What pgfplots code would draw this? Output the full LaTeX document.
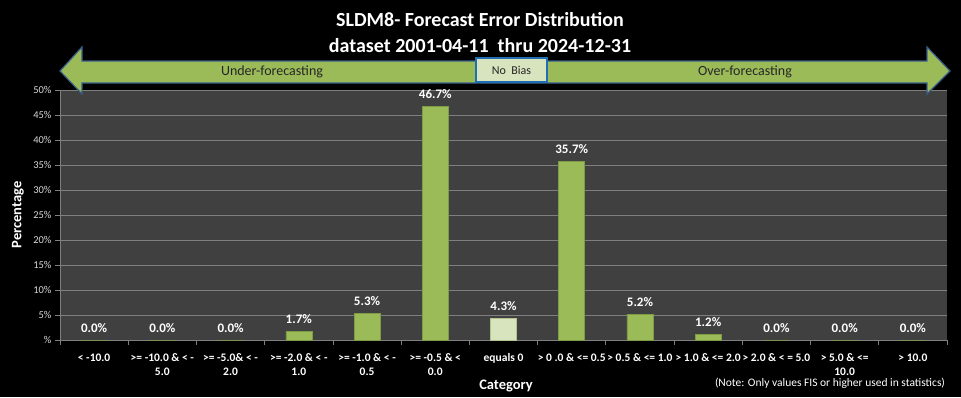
\documentclass[border=0pt]{standalone}
\usepackage{pgfplots}
\pgfplotsset{compat=1.18}
\usepackage{fontspec}
\setmainfont{Carlito}
\definecolor{bargreen}{HTML}{9BBB59}
\definecolor{baredge}{HTML}{7E9B45}
\definecolor{barlight}{HTML}{D7E4BD}
\definecolor{plotbg}{HTML}{404040}
\definecolor{gridc}{HTML}{7F7F7F}
\definecolor{arrowedge}{HTML}{385D8A}
\definecolor{boxedge}{HTML}{1F6FB5}
\definecolor{ticktext}{HTML}{D9D9D9}
\begin{document}
\begin{tikzpicture}[x=1bp,y=1bp]
\useasboundingbox (0,0) rectangle (961,397);
\fill[black] (0,0) rectangle (961,397);
% titles
\node[text=white,font=\bfseries\fontsize{20bp}{22bp}\selectfont] at (480,377) {SLDM8- Forecast Error Distribution};
\node[text=white,font=\bfseries\fontsize{20bp}{22bp}\selectfont] at (480,351) {dataset 2001-04-11\ \ thru 2024-12-31};
\begin{axis}[
  at={(60bp,57bp)}, anchor=south west,
  scale only axis, width=887bp, height=250bp,
  xmin=0, xmax=13, ymin=0, ymax=50,
  /pgf/number format/assume math mode=true,
  ybar, bar width=26bp, bar shift=0pt,
  axis background/.style={fill=plotbg},
  axis x line*=bottom, axis y line*=left,
  axis line style={draw=gridc, line width=0.8bp},
  xtick={0.5,1.5,...,12.5},
  xticklabels={{\textless\ -10.0},{\textgreater= -10.0 \& \textless\ -\\5.0},{\textgreater= -5.0\& \textless\ -\\2.0},{\textgreater= -2.0 \& \textless\ -\\1.0},{\textgreater= -1.0 \& \textless\ -\\0.5},{\textgreater= -0.5 \& \textless\\0.0},{equals 0},{\textgreater\ 0 .0 \& \textless= 0.5},{\textgreater\ 0.5 \& \textless= 1.0},{\textgreater\ 1.0 \& \textless= 2.0},{\textgreater\ 2.0 \& \textless\ = 5.0},{\textgreater\ 5.0 \& \textless=\\10.0},{\textgreater\ 10.0}},
  major x tick style={draw=none},
  minor xtick={0,1,...,13},
  minor tick length=5bp,
  minor x tick style={draw=gridc, line width=0.8bp},
  tick align=outside,
  xticklabel style={text=white, font=\bfseries\fontsize{11.5bp}{14bp}\selectfont, align=center, yshift=-5bp},
  ytick={0,5,...,50},
  yticklabels={\%,5\%,10\%,15\%,20\%,25\%,30\%,35\%,40\%,45\%,50\%},
  yticklabel style={text=ticktext, font=\fontsize{10.5bp}{12bp}\selectfont},
  major y tick style={draw=gridc, line width=0.8bp},
  major tick length=5bp,
  ymajorgrids, major grid style={draw=gridc, line width=0.9bp},
  nodes near coords={\pgfmathprintnumber[fixed,fixed zerofill,precision=1]{\pgfplotspointmeta}\%},
  every node near coord/.append style={text=white, font=\bfseries\fontsize{13bp}{15bp}\selectfont, yshift=4bp},
  clip=false,
]
\addplot[fill=bargreen, draw=baredge, line width=0.6bp] coordinates {
 (0.5,0) (1.5,0) (2.5,0) (3.5,1.7) (4.5,5.3) (5.5,46.7)
 (7.5,35.7) (8.5,5.2) (9.5,1.2) (10.5,0) (11.5,0) (12.5,0)};
\addplot[fill=barlight, draw=baredge!60, line width=0.6bp] coordinates {(6.5,4.3)};
\end{axis}
% axis titles
\node[text=white,font=\bfseries\fontsize{14.5bp}{16bp}\selectfont, rotate=90] at (18,182) {Percentage};
\node[text=white,font=\bfseries\fontsize{14.5bp}{16bp}\selectfont] at (506,11) {Category};
\node[text=white,font=\fontsize{11.5bp}{13bp}\selectfont] at (830,14) {(Note: Only values FIS or higher used in statistics)};
% direction arrow
\filldraw[fill=bargreen, draw=arrowedge, line width=1.2bp]
  (60,326) -- (82,350) -- (82,336) -- (927,336) -- (927,350) -- (950,326)
  -- (927,303) -- (927,314) -- (82,314) -- (82,303) -- cycle;
\filldraw[fill=barlight, draw=boxedge, line width=1.8bp] (476,315) rectangle (547,339);
\node[text=black!85,font=\fontsize{14bp}{16bp}\selectfont] at (272,325) {Under-forecasting};
\node[text=black!85,font=\fontsize{12bp}{14bp}\selectfont] at (511.5,327) {No\ \ Bias};
\node[text=black!85,font=\fontsize{14bp}{16bp}\selectfont] at (745,325) {Over-forecasting};
\end{tikzpicture}
\end{document}
